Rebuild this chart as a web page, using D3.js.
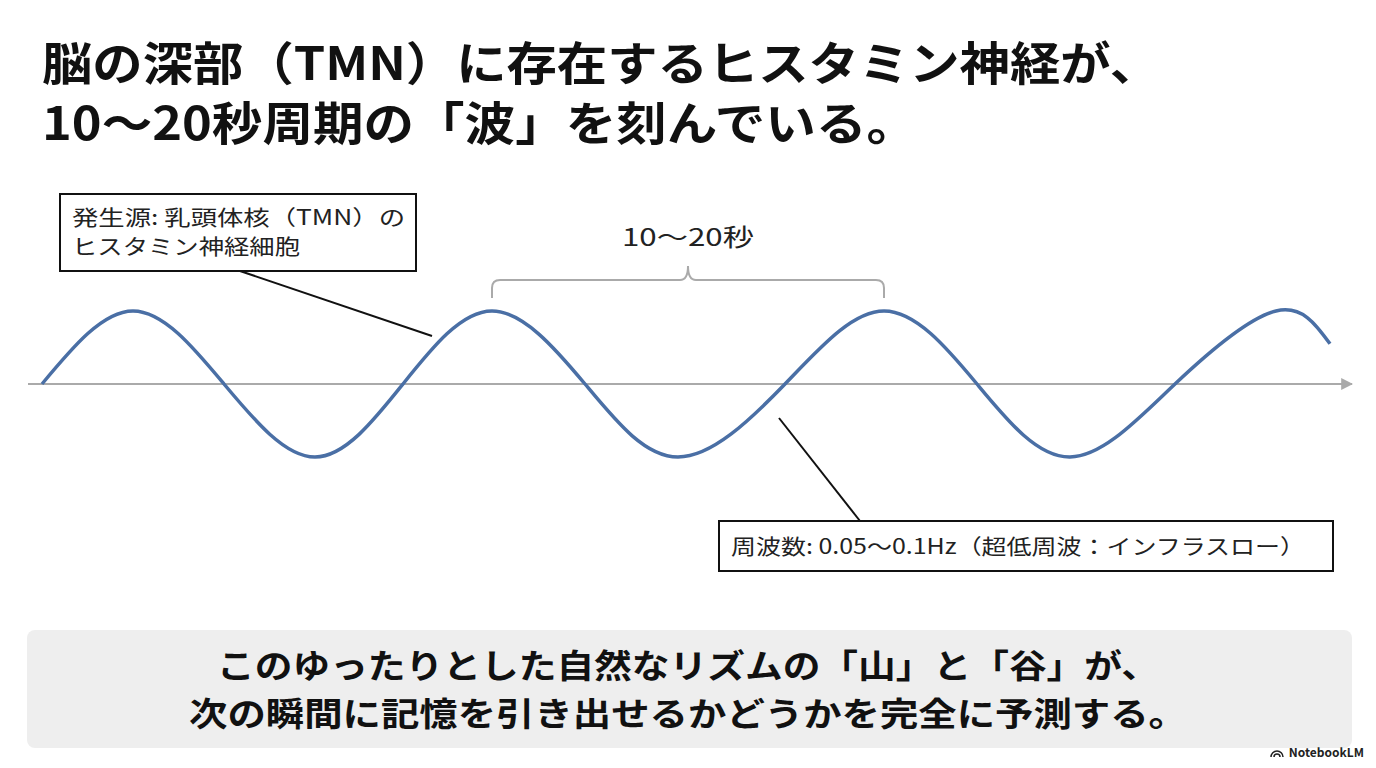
<!DOCTYPE html>
<html><head><meta charset="utf-8">
<script src="https://cdn.jsdelivr.net/npm/d3@7"></script>
<style>body{margin:0;background:#fff}</style>
</head><body>
<svg id="chart" width="1376" height="768" viewBox="0 0 1376 768"></svg>
<script>
// wave key points (time units ~ px, value -1..1)
const waveT = [0, 91, 182, 273, 361, 450, 543, 636, 743, 842, 935, 1028, 1133, 1234, 1288];
const waveV = [0, 1, 0, -1, 0, 1, 0, -1, 0, 1, 0, -1, 0, 1, 0.55];
const titleLines = ["脳の深部（TMN）に存在するヒスタミン神経が、", "10〜20秒周期の「波」を刻んでいる。"];
const titleWidths = [1118, 875];
const footerLines = ["このゆったりとした自然なリズムの「山」と「谷」が、", "次の瞬間に記憶を引き出せるかどうかを完全に予測する。"];
const footerWidths = [942, 998];
const sourceLabel = ["発生源: 乳頭体核（TMN）の", "ヒスタミン神経細胞"];
const sourceWidths = [333, 228];
const freqLabel = "周波数: 0.05〜0.1Hz（超低周波：インフラスロー）";
const periodLabel = "10〜20秒";

const svg = d3.select("#chart");
const font = "'Noto Sans CJK JP', 'Noto Sans', sans-serif";

const x = d3.scaleLinear().domain([0, 1288]).range([42, 1330]);
const y = d3.scaleLinear().domain([-1, 1]).range([457, 311]);

svg.append("g").selectAll("text").data(titleLines).enter().append("text")
    .attr("x", 42).attr("y", (d, i) => 80 + i * 60)
    .attr("textLength", (d, i) => titleWidths[i]).attr("lengthAdjust", "spacingAndGlyphs")
    .style("font-family", font).style("font-weight", 700).style("font-size", "46px")
    .attr("fill", "#111").text(d => d);

// axis with arrow
svg.append("defs").append("marker").attr("id", "arr")
    .attr("viewBox", "0 0 10 10").attr("refX", 9).attr("refY", 5)
    .attr("markerWidth", 6).attr("markerHeight", 6).attr("orient", "auto")
    .append("path").attr("d", "M0,0L10,5L0,10z").attr("fill", "#aaa");
svg.append("line").attr("x1", 28).attr("x2", 1352).attr("y1", y(0)).attr("y2", y(0))
    .attr("stroke", "#aaa").attr("stroke-width", 2).attr("marker-end", "url(#arr)");

const pts = waveT.map((t, i) => [t, waveV[i]]);
svg.append("path").datum(pts)
    .attr("d", d3.line().x(d => x(d[0])).y(d => y(d[1])).curve(d3.curveNatural))
    .attr("fill", "none").attr("stroke", "#4a6fa5").attr("stroke-width", 3.5);

// bracket between two peaks
const b1 = x(450), b2 = x(842), bm = (b1 + b2) / 2;
svg.append("path")
    .attr("d", `M${b1},298 V288 Q${b1},280 ${b1+8},280 H${bm-8} Q${bm},280 ${bm},266 Q${bm},280 ${bm+8},280 H${b2-8} Q${b2},280 ${b2},288 V298`)
    .attr("fill", "none").attr("stroke", "#aaa").attr("stroke-width", 2);
svg.append("text").attr("x", bm).attr("y", 246).attr("text-anchor", "middle")
    .attr("textLength", 132).attr("lengthAdjust", "spacingAndGlyphs")
    .style("font-family", font).style("font-size", "24px").attr("fill", "#222").text(periodLabel);

// callouts
svg.append("line").attr("x1", 240).attr("y1", 271).attr("x2", 432).attr("y2", 336).attr("stroke", "#111").attr("stroke-width", 2);
svg.append("rect").attr("x", 60).attr("y", 194).attr("width", 356).attr("height", 77)
    .attr("fill", "#fff").attr("stroke", "#111").attr("stroke-width", 2);
svg.append("g").selectAll("text").data(sourceLabel).enter().append("text")
    .attr("x", 72).attr("y", (d, i) => 225 + i * 29)
    .attr("textLength", (d, i) => sourceWidths[i]).attr("lengthAdjust", "spacingAndGlyphs")
    .style("font-family", font).style("font-size", "21px").attr("fill", "#222").text(d => d);

svg.append("line").attr("x1", 779).attr("y1", 418).attr("x2", 860).attr("y2", 521).attr("stroke", "#111").attr("stroke-width", 2);
svg.append("rect").attr("x", 719).attr("y", 521).attr("width", 614).attr("height", 50)
    .attr("fill", "#fff").attr("stroke", "#111").attr("stroke-width", 2);
svg.append("text").attr("x", 731).attr("y", 554)
    .attr("textLength", 574).attr("lengthAdjust", "spacingAndGlyphs")
    .style("font-family", font).style("font-size", "21px").attr("fill", "#222").text(freqLabel);

// footer panel
svg.append("rect").attr("x", 27).attr("y", 630).attr("width", 1325).attr("height", 118)
    .attr("rx", 8).attr("fill", "#eeeeee");
svg.append("g").selectAll("text").data(footerLines).enter().append("text")
    .attr("x", 688).attr("y", (d, i) => 678 + i * 48).attr("text-anchor", "middle")
    .attr("textLength", (d, i) => footerWidths[i]).attr("lengthAdjust", "spacingAndGlyphs")
    .style("font-family", font).style("font-weight", 700).style("font-size", "33px")
    .attr("fill", "#111").text(d => d);

svg.append("text").attr("x", 1364).attr("y", 757).attr("text-anchor", "end")
    .style("font-family", font).style("font-size", "12px").style("font-weight", 600)
    .attr("fill", "#222").text("NotebookLM");
svg.append("path").attr("d", "M1271,757 a6,6 0 0 1 12,0 M1274,757 a3,3 0 0 1 6,0")
    .attr("fill", "none").attr("stroke", "#222").attr("stroke-width", 1.5);
</script>
</body></html>
